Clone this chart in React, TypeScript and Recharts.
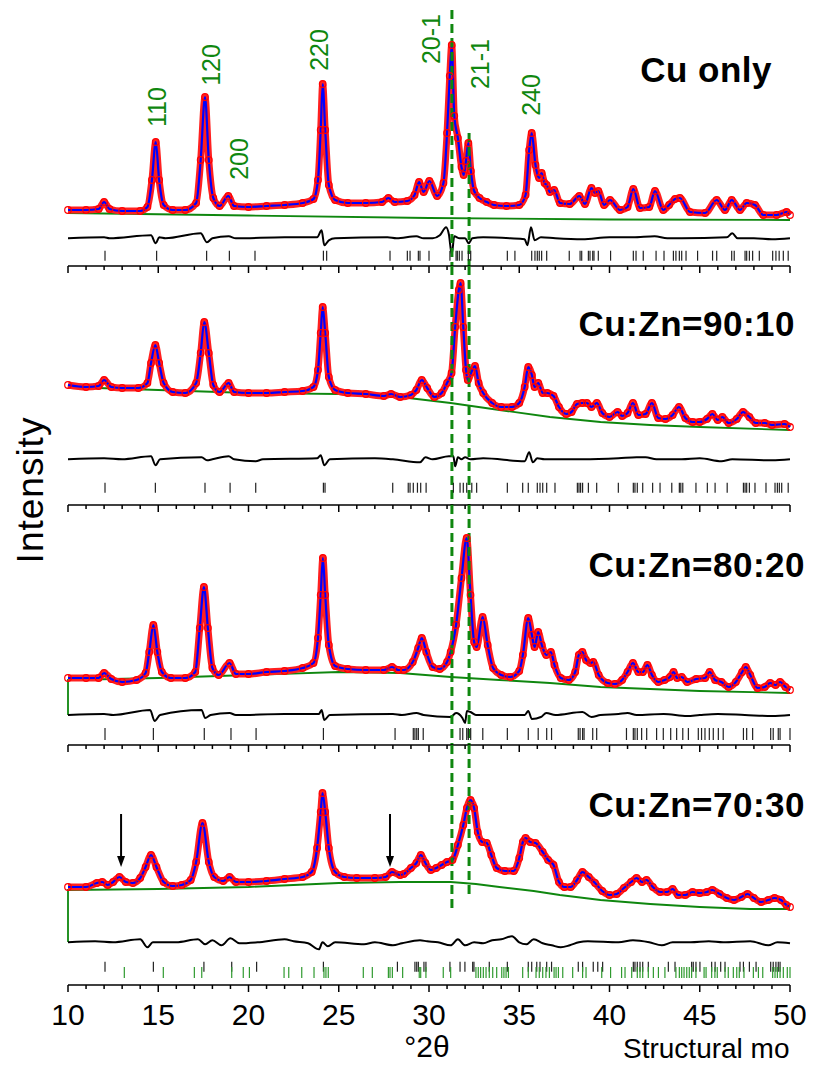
import React from 'react'
import { ComposedChart, Line, Scatter, XAxis, YAxis, ReferenceLine } from 'recharts'

type Pt = [number, number]

// observed / calculated profiles, [2θ, intensity a.u.]
const cuOnlyProfile: Pt[] = [
  [10, 56], [11, 56], [11.7, 57], [12, 64], [12.3, 57], [13, 55], [14, 55], [14.4, 59], [14.65, 86], [14.86, 124],
  [15.05, 86], [15.3, 61], [15.8, 56], [16.5, 56], [17.1, 63], [17.35, 106], [17.59, 169], [17.8, 106], [18.05, 68],
  [18.4, 60], [18.88, 70], [19.2, 60], [20, 59], [21, 60], [22, 61], [23, 63], [23.6, 67], [23.85, 86], [24, 136],
  [24.11, 182], [24.25, 136], [24.45, 81], [24.8, 66], [25.5, 63], [26.5, 63], [27.4, 64], [27.75, 68], [28.1, 64],
  [28.8, 65], [29.2, 71], [29.45, 84], [29.7, 74], [30.02, 85], [30.45, 70], [30.8, 83], [31, 133], [31.15, 190],
  [31.26, 221], [31.4, 150], [31.6, 128], [31.8, 99], [31.92, 91], [32.05, 105], [32.18, 123], [32.32, 95], [32.5, 75],
  [32.8, 68], [33.2, 64], [33.6, 61], [34.3, 60], [35, 61], [35.35, 71], [35.55, 116], [35.69, 133], [35.9, 101],
  [36.1, 88], [36.24, 93], [36.4, 83], [36.52, 81], [36.7, 74], [36.93, 76], [37.26, 63], [37.8, 62], [38.33, 70],
  [38.64, 62], [39, 78], [39.2, 73], [39.38, 75], [39.7, 61], [40.03, 66], [40.58, 56], [41, 59], [41.32, 77],
  [41.69, 58], [42.2, 59], [42.52, 75], [42.98, 56], [43.3, 61], [43.63, 67], [43.9, 68], [44.46, 54], [45.3, 53],
  [45.94, 66], [46.4, 56], [46.77, 66], [47.23, 56], [47.6, 63], [48.06, 61], [48.52, 51], [49.26, 51], [49.81, 54], [50, 51],
]
const zn10Profile: Pt[] = [
  [10, 120], [11, 118], [11.7, 119], [12, 125], [12.4, 118], [13, 117], [13.9, 117], [14.4, 122], [14.6, 142], [14.84, 160],
  [15.05, 142], [15.3, 122], [15.8, 113], [16.5, 112], [17.1, 122], [17.35, 152], [17.55, 183], [17.8, 152], [18.05, 120],
  [18.4, 113], [18.9, 122], [19.2, 113], [20, 112], [21, 112], [22, 113], [23, 114], [23.6, 118], [23.85, 135], [24, 172],
  [24.11, 198], [24.25, 172], [24.45, 128], [24.8, 115], [25.5, 112], [26.5, 111], [27.5, 109], [27.9, 111], [28.4, 108],
  [29, 110], [29.3, 115], [29.6, 125], [29.9, 117], [30.3, 108], [30.7, 112], [31, 122], [31.25, 132], [31.45, 178],
  [31.65, 215], [31.75, 222], [31.9, 178], [32.05, 135], [32.15, 125], [32.35, 133], [32.55, 139], [32.75, 122], [33, 112],
  [33.5, 102], [34, 98], [34.6, 98], [35, 102], [35.3, 118], [35.5, 138], [35.7, 130], [35.85, 118], [36.05, 122],
  [36.3, 112], [36.55, 112], [36.9, 109], [37.2, 98], [37.6, 91], [37.9, 93], [38.2, 101], [38.5, 102], [38.75, 102],
  [39, 98], [39.3, 102], [39.6, 92], [40, 88], [40.45, 93], [40.7, 89], [41, 92], [41.3, 102], [41.6, 90], [42, 91],
  [42.35, 102], [42.7, 87], [43.1, 86], [43.5, 90], [43.85, 98], [44.2, 87], [44.6, 83], [45, 83], [45.4, 86], [45.7, 91],
  [46, 85], [46.25, 88], [46.6, 82], [47.05, 86], [47.4, 93], [47.75, 88], [48.1, 82], [48.6, 82], [49, 80], [49.7, 81], [50, 78],
]
const zn20Profile: Pt[] = [
  [10, 67], [11, 67], [11.7, 67], [12, 72], [12.4, 66], [13, 63], [13.8, 65], [14.3, 72], [14.5, 93], [14.73, 120],
  [14.95, 93], [15.2, 73], [15.7, 67], [16.5, 67], [17.05, 73], [17.3, 117], [17.53, 158], [17.75, 117], [18, 77],
  [18.35, 70], [18.95, 82], [19.3, 71], [20, 71], [21, 73], [22, 74], [23, 77], [23.6, 82], [23.85, 107], [24, 150],
  [24.12, 187], [24.25, 150], [24.45, 100], [24.8, 79], [25.5, 76], [26.5, 75], [27.5, 75], [27.95, 78], [28.3, 75],
  [28.6, 75], [29.1, 83], [29.4, 97], [29.6, 107], [29.85, 93], [30.2, 78], [30.6, 76], [31, 83], [31.2, 93], [31.5, 120],
  [31.8, 167], [32.09, 207], [32.3, 150], [32.5, 103], [32.64, 98], [32.97, 128], [33.25, 100], [33.55, 77], [34, 70],
  [34.5, 68], [35, 74], [35.2, 90], [35.5, 127], [35.7, 110], [35.85, 98], [36.05, 113], [36.25, 100], [36.5, 90],
  [36.75, 93], [36.95, 80], [37.3, 67], [37.75, 65], [38.1, 73], [38.3, 90], [38.5, 93], [38.7, 85], [38.95, 82],
  [39.1, 83], [39.4, 70], [39.9, 62], [40.3, 61], [40.7, 65], [41, 73], [41.3, 82], [41.6, 73], [41.85, 73], [42.1, 80],
  [42.35, 70], [42.7, 63], [43.05, 65], [43.35, 68], [43.55, 73], [43.75, 67], [44, 68], [44.3, 63], [44.8, 66],
  [45.3, 67], [45.55, 73], [45.85, 65], [46.2, 63], [46.6, 58], [47, 63], [47.35, 73], [47.55, 78], [47.8, 70],
  [48.2, 57], [48.6, 58], [48.9, 62], [49.2, 60], [49.45, 63], [49.75, 58], [50, 55],
]
const zn30Profile: Pt[] = [
  [10, 98], [11, 98], [11.6, 102], [11.9, 103], [12.2, 100], [12.5, 103], [12.85, 108], [13.2, 103], [13.6, 102], [14, 107],
  [14.3, 118], [14.6, 130], [14.9, 118], [15.3, 103], [15.8, 99], [16.3, 100], [16.8, 105], [17.1, 123], [17.45, 162],
  [17.8, 123], [18.1, 108], [18.6, 104], [18.95, 108], [19.3, 103], [20, 103], [21, 104], [22, 106], [23, 108],
  [23.5, 113], [23.8, 137], [24, 173], [24.1, 192], [24.25, 173], [24.45, 137], [24.8, 113], [25.3, 108], [26, 107],
  [27, 107], [27.6, 108], [27.95, 113], [28.4, 110], [28.6, 111], [29, 117], [29.3, 122], [29.55, 130], [29.8, 122],
  [30.1, 115], [30.4, 117], [30.7, 120], [31, 123], [31.3, 125], [31.6, 140], [31.9, 160], [32.1, 177], [32.3, 185],
  [32.5, 177], [32.7, 153], [32.95, 143], [33.2, 142], [33.45, 130], [33.75, 117], [34.2, 114], [34.7, 114], [35, 127],
  [35.2, 143], [35.35, 147], [35.6, 143], [35.9, 142], [36.3, 133], [36.6, 125], [36.9, 120], [37.2, 103], [37.5, 98],
  [37.85, 98], [38.2, 105], [38.5, 113], [38.85, 108], [39.2, 102], [39.6, 94], [40, 90], [40.4, 91], [40.8, 97],
  [41.2, 103], [41.5, 107], [41.8, 103], [42.05, 105], [42.4, 98], [42.8, 93], [43.2, 93], [43.5, 96], [43.8, 90],
  [44.2, 90], [44.6, 93], [45, 92], [45.4, 93], [45.7, 95], [46.1, 91], [46.5, 87], [46.9, 85], [47.3, 88], [47.65, 91],
  [48, 87], [48.4, 83], [48.8, 85], [49.15, 87], [49.5, 85], [49.8, 80], [50, 78],
]

// refined backgrounds
const cuOnlyBackground: Pt[] = [[10, 53], [20, 50.5], [30, 48], [40, 46.5], [50, 46]]
const zn10Background: Pt[] = [
  [10, 118], [15, 115], [20, 112], [25, 111], [28.4, 108], [31.2, 102], [33.9, 95], [36.7, 88], [39.5, 83], [42.25, 80], [45, 78], [50, 75],
]
const zn20Background: Pt[] = [
  [10, 30], [10, 65], [15, 67], [20, 70], [25, 73], [28.4, 72], [31.2, 68], [33.9, 65], [36.7, 62], [39.5, 58], [42.25, 56], [45, 54], [50, 52],
]
const zn30Background: Pt[] = [
  [10, 43], [10, 95], [15, 96], [20, 98], [25, 102], [28.4, 103], [31.2, 103], [32.6, 101], [33.9, 98], [35.8, 94],
  [37.25, 90], [39.5, 85], [42.25, 81], [45, 78], [47.8, 76], [50, 76],
]

// obs - calc
const cuOnlyDiff: Pt[] = [
  [10, 0], [12, 1], [12.3, 0], [14.6, 3], [14.86, -5], [15.05, 1], [15.4, 0], [17.35, 5], [17.7, -4], [18, 0], [18.9, 2],
  [19.3, 0], [22, 1], [23.8, 1], [24.05, 8], [24.2, -7], [24.45, -2], [24.8, 0], [27.7, 1], [28.2, 0], [29.3, 2], [29.7, 0],
  [30.2, 0], [30.6, 3], [30.95, 11], [31.1, 4], [31.26, -16], [31.4, 2], [31.7, 0], [32, 0], [32.2, -5], [32.4, 0], [33, 1],
  [34.5, 0], [35.3, -1], [35.45, -7], [35.65, 11], [35.85, -2], [36.2, 1], [37, 0], [38.5, -1], [40, 1], [41.3, 1],
  [42.5, 2], [43.2, 0], [44, 0], [46.5, 1], [46.8, 5], [47.1, 0], [48, 0], [49, -1], [50, 0],
]
const zn10Diff: Pt[] = [
  [10, 0], [12, 1], [13, 0], [14.6, 3], [14.85, -6], [15.1, 0], [17.4, 2], [17.7, -1], [18, 0], [18.9, 3], [19.2, 0],
  [20.4, -2], [20.8, 0], [23.8, 1], [24, 4], [24.2, -6], [24.5, 0], [27, 1], [28, 0], [29.5, -3], [29.8, 2], [30.2, 0],
  [31.1, 3], [31.35, 3], [31.45, -7], [31.6, 2], [31.8, 0], [32, 2], [32.3, 0], [33, 1], [35.3, -2], [35.55, 7],
  [35.75, -3], [36, 1], [36.4, 0], [38.5, 0], [40.5, 1], [41.5, 2], [42, 2], [42.6, 0], [44, 0], [45, 1], [46.2, -2],
  [46.8, 0], [49, -1], [50, 0],
]
const zn20Diff: Pt[] = [
  [10, 0], [12, 1], [12.5, 0], [14.55, 5], [14.8, -6], [15.1, 0], [17.4, 5], [17.6, -3], [17.9, 0], [18.95, 2], [19.3, 0],
  [22, 1], [23.9, 1], [24.05, 5], [24.2, -5], [24.5, 0], [28, 1], [28.5, 0], [29.3, 2], [29.7, 0], [31.2, -2], [31.5, 2],
  [31.85, -3], [32, -8], [32.1, 4], [32.3, 3], [32.6, 0], [34, 0], [35.3, 0], [35.5, 4], [35.7, -4], [36.2, -2],
  [36.5, 2], [37, 0], [38.5, 3], [39, -2], [39.5, 0], [40.5, 1], [41, 2], [41.5, 0], [43, 1], [44.3, -1], [45, 0],
  [46, 1], [47.5, 0], [49, -1], [50, 0],
]
const zn30Diff: Pt[] = [
  [10, 0], [11.5, 1], [12.5, 0], [14, 3], [14.4, -5], [14.7, 0], [16, 0], [17.2, 3], [17.6, -2], [18, 2], [18.5, -3],
  [19, 4], [19.5, -1], [20.5, 0], [22, 3], [22.5, 1], [23.3, -1], [23.9, -7], [24.1, 0], [24.4, -4], [24.8, 0],
  [26.4, -2], [27, 0], [28, -3], [28.5, -1], [29.5, 2], [29.9, 1], [30.5, 0], [31.2, -3], [31.6, 3], [32, -3], [32.5, 0],
  [33, -1], [33.5, 2], [34, 3], [34.6, 6], [35, 0], [35.4, -2], [35.8, 3], [36.3, -1], [36.8, -3], [37.3, -5],
  [37.8, -3], [38.3, 0], [38.8, 1], [40.5, 0], [41.3, 2], [42.2, 0], [42.9, -3], [43.5, 0], [44.5, 0], [45.5, 1],
  [46.3, 0], [47.8, 1], [48.8, -3], [49.3, 0], [50, -1],
]

// Bragg reflection positions (2θ)
const cuOnlyReflections = [
  12.05, 14.91, 17.68, 18.94, 20.36, 24.15, 24.33, 27.84, 28.8, 28.95, 29.41, 29.5, 30.0, 31.16, 31.5, 31.57, 31.68,
  31.83, 32.18, 32.31, 34.34, 34.76, 35.69, 35.87, 36.0, 36.11, 36.24, 36.52, 37.77, 38.37, 38.46, 38.83, 38.92, 39.07,
  39.14, 39.38, 40.06, 41.32, 41.47, 41.87, 42.58, 43.02, 43.54, 43.68, 43.87, 44.0, 44.24, 44.88, 45.71, 45.94, 46.77,
  46.91, 47.51, 47.6, 47.75, 47.93, 48.3, 49.04, 49.22, 49.4, 49.63, 49.9,
]
const zn10Reflections = [
  12.05, 14.84, 17.59, 18.98, 20.4, 24.15, 24.24, 27.99, 28.85, 28.95, 29.13, 29.36, 29.54, 29.84, 31.35, 31.72, 31.9,
  32.09, 32.37, 32.64, 34.34, 35.19, 35.5, 36.0, 36.15, 36.3, 36.52, 36.98, 38.22, 38.31, 38.4, 38.51, 38.83, 39.29,
  40.49, 41.32, 41.41, 41.54, 41.84, 42.39, 42.8, 43.45, 43.87, 43.95, 44.06, 44.79, 45.42, 45.85, 46.52, 47.42, 47.51,
  47.6, 47.75, 48.06, 48.67, 49.17, 49.3, 49.41, 49.54, 49.9,
]
const zn20Reflections = [
  12.05, 14.73, 17.55, 19.03, 20.42, 24.15, 28.12, 29.13, 29.22, 29.32, 29.41, 29.68, 31.72, 31.87, 32.09, 32.18, 32.31,
  32.98, 34.34, 35.5, 36.05, 36.52, 36.79, 38.27, 38.37, 38.51, 38.59, 39.07, 39.29, 40.94, 41.32, 41.41, 41.54, 41.78,
  42.06, 42.61, 42.98, 43.39, 43.72, 44.06, 44.37, 44.92, 45.1, 45.29, 45.53, 45.75, 46.03, 46.3, 47.42, 47.6, 47.93,
  48.93, 49.07, 49.35, 49.45, 50.0,
]
const zn30Reflections = [
  12.05, 14.73, 17.53, 19.07, 20.45, 24.15, 28.25, 29.22, 29.32, 29.41, 29.72, 29.83, 31.16, 31.72, 31.99, 32.42, 32.49,
  33.34, 34.34, 35.5, 35.69, 35.97, 36.15, 36.52, 36.79, 38.27, 38.51, 39.1, 39.35, 39.62, 41.32, 41.41, 41.54, 41.69,
  41.84, 42.15, 43.26, 43.63, 44.55, 44.64, 44.79, 45.01, 45.66, 45.85, 46.16, 46.4, 47.23, 47.42, 47.75, 48.12, 48.93,
  49.07, 49.22, 49.35, 49.45,
]
// second phase in the 70:30 sample
const zn30SecondPhase = [
  13.12, 15.28, 17.0, 17.41, 19.07, 19.71, 20.05, 21.97, 22.23, 22.95, 23.63, 24.18, 24.29, 24.42, 26.36, 26.86, 27.75,
  27.84, 27.97, 28.54, 29.46, 29.54, 29.83, 30.79, 31.2, 32.6, 32.73, 32.86, 33.01, 33.16, 33.34, 33.53, 33.75, 34.03,
  34.15, 34.27, 34.4, 35.19, 35.5, 35.93, 36.11, 36.3, 36.48, 36.67, 36.93, 37.04, 37.17, 37.41, 37.96, 38.51, 38.7,
  39.57, 40.06, 40.67, 40.86, 41.23, 41.54, 41.69, 41.84, 42.15, 42.43, 42.71, 43.07, 43.68, 43.87, 44.0, 44.13, 44.28,
  44.42, 44.55, 44.79, 45.24, 45.35, 45.66, 45.84, 45.97, 46.4, 46.58, 46.86, 47.05, 47.19, 47.45, 47.97, 48.25, 48.49,
  49.04, 49.17, 49.3, 49.45, 49.63, 49.85, 50.0,
]

const panelTitles = ['Cu only', 'Cu:Zn=90:10', 'Cu:Zn=80:20', 'Cu:Zn=70:30']
const hklLabels = ['110', '120', '200', '220', '20-1', '21-1', '240']
const hklAt = [14.93, 17.92, 19.47, 23.9, 30.11, 32.83, 35.65]
const hklHeight = [159, 201, 107, 216, 227, 202, 171]
const markerLines = [31.27, 32.22]
const arrowAt = [12.94, 27.84]
const xTicks = Array.from({ length: 41 }, (_, i) => 10 + i)
const yTicks = [8, 29, 50, 71, 92, 113, 133, 154, 175, 196, 217]

const FONT = '"Liberation Sans", Arial, sans-serif'
const GREEN = '#0f870f'
const W = 798

const toPts = (a: Pt[]) => a.map(([x, y]) => ({ x, y }))

const AxisTick = (props: any) => {
  const { x, y, payload, showLabel } = props
  const major = payload.value % 5 === 0
  return (
    <g>
      <line x1={x} x2={x} y1={y} y2={y + (major ? 7 : 4)} stroke="#000" strokeWidth={1.5} />
      {showLabel && major && (
        <text x={x} y={y + 40} textAnchor="middle" fontSize={30} fontFamily={FONT} fill="#000">
          {payload.value}
        </text>
      )}
    </g>
  )
}

const tickShape = (len: number, color: string) => (props: any) => {
  const { cx, cy } = props
  return <line x1={cx} x2={cx} y1={cy - len / 2} y2={cy + len / 2} stroke={color} strokeWidth={1.2} />
}

const HklText = (props: any) => {
  const { cx, cy, payload } = props
  return (
    <text x={cx} y={cy} transform={`rotate(-90 ${cx} ${cy})`} textAnchor="middle" dominantBaseline="central"
      fontSize={25} fontFamily={FONT} fill={GREEN}>
      {payload.label}
    </text>
  )
}

const Arrow = (props: any) => {
  const { x1, y1, x2, y2 } = props
  return (
    <g>
      <line x1={x1} y1={y1} x2={x2} y2={y2 - 8} stroke="#000" strokeWidth={2} />
      <path d={`M${x2 - 4},${y2 - 11} L${x2 + 4},${y2 - 11} L${x2},${y2} Z`} fill="#000" />
    </g>
  )
}

interface PanelProps {
  top: number
  height: number
  marginTop: number
  axisHeight: number
  profile: Pt[]
  background: Pt[]
  diff: Pt[]
  diffBase: number
  reflections: number[]
  tickBase: number
  tickLen: number
  extra?: number[]
  extraBase?: number
  showLabels?: boolean
  dashes: [number, number][]
  children?: React.ReactNode
}

function Panel(p: PanelProps) {
  const prof = toPts(p.profile)
  const diffPts = p.diff.map(([x, d]) => ({ x, y: p.diffBase + d }))
  return (
    <div style={{ position: 'absolute', left: 0, top: p.top }}>
      <ComposedChart width={W} height={p.marginTop + p.height + p.axisHeight}
        margin={{ top: p.marginTop, right: 16, bottom: 0, left: 60 }}>
        <XAxis type="number" dataKey="x" domain={[10, 50]} ticks={xTicks} interval={0} tickSize={0} tickMargin={0}
          height={p.axisHeight} axisLine={{ stroke: '#000', strokeWidth: 1.5 }} tickLine={false}
          tick={(t: any) => <AxisTick {...t} showLabel={p.showLabels} />} />
        <YAxis type="number" dataKey="y" domain={[0, p.height]} width={0} mirror tick={false} tickSize={3}
          ticks={yTicks.filter(v => v <= p.height)} axisLine={{ stroke: '#000', strokeWidth: 1.5 }}
          tickLine={{ stroke: '#000', strokeWidth: 1 }} />
        <Line data={toPts(p.background)} dataKey="y" type="linear" stroke={GREEN} strokeWidth={1.8} dot={false}
          activeDot={false} isAnimationActive={false} />
        <Line data={prof} dataKey="y" type="monotone" stroke="#ff2020" strokeWidth={7}
          dot={{ r: 3.3, stroke: '#ff0000', strokeWidth: 1.2, fill: 'none' }} activeDot={false} isAnimationActive={false} />
        <Line data={prof} dataKey="y" type="monotone" stroke="#0000ff" strokeWidth={2.2} dot={false}
          activeDot={false} isAnimationActive={false} />
        <Line data={diffPts} dataKey="y" type="monotone" stroke="#000" strokeWidth={2} dot={false}
          activeDot={false} isAnimationActive={false} />
        <Scatter data={p.reflections.map(x => ({ x, y: p.tickBase }))} shape={tickShape(p.tickLen, '#222')}
          isAnimationActive={false} />
        {p.extra && (
          <Scatter data={p.extra.map(x => ({ x, y: p.extraBase }))} shape={tickShape(11, '#2f9a2f')}
            isAnimationActive={false} />
        )}
        {markerLines.map((x, i) => (
          <ReferenceLine key={x} segment={[{ x, y: p.dashes[i][0] }, { x, y: p.dashes[i][1] }]}
            stroke={GREEN} strokeWidth={3} strokeDasharray="9 5" ifOverflow="visible" />
        ))}
        {p.children}
      </ComposedChart>
    </div>
  )
}

export default function App() {
  const hkl = hklLabels.map((label, i) => ({ x: hklAt[i], y: hklHeight[i], label }))
  const titleY = [74, 328, 569, 809]
  const titleRight = [764, 787, 797, 797]
  return (
    <div style={{ position: 'relative', width: W, height: 1058, fontFamily: FONT }}>
      <Panel top={0} height={238} marginTop={20} axisHeight={10} profile={cuOnlyProfile}
        background={cuOnlyBackground} diff={cuOnlyDiff} diffBase={27.7} reflections={cuOnlyReflections}
        tickBase={10.3} tickLen={10} dashes={[[256, 0], [133, 0]]}>
        <Scatter data={hkl} shape={HklText} isAnimationActive={false} />
      </Panel>
      <Panel top={258} height={239} marginTop={0} axisHeight={10} profile={zn10Profile}
        background={zn10Background} diff={zn10Diff} diffBase={45.7} reflections={zn10Reflections}
        tickBase={17.3} tickLen={10} dashes={[[239, 0], [239, 0]]} />
      <Panel top={497} height={240} marginTop={0} axisHeight={10} profile={zn20Profile}
        background={zn20Background} diff={zn20Diff} diffBase={30} reflections={zn20Reflections}
        tickBase={11} tickLen={12} dashes={[[240, 0], [240, 0]]} />
      <Panel top={737} height={240} marginTop={0} axisHeight={50} profile={zn30Profile}
        background={zn30Background} diff={zn30Diff} diffBase={42.7} reflections={zn30Reflections}
        tickBase={18.3} tickLen={10} extra={zn30SecondPhase} extraBase={12.5} showLabels
        dashes={[[240, 73], [240, 88]]}>
        {arrowAt.map(x => (
          <ReferenceLine key={x} segment={[{ x, y: 171 }, { x, y: 118 }]} shape={Arrow} />
        ))}
      </Panel>
      <svg width={W} height={1058} style={{ position: 'absolute', left: 0, top: 0, pointerEvents: 'none' }}>
        <text x={35} y={482} transform="rotate(-90 35 482)" textAnchor="middle" fontSize={37} letterSpacing={1}
          fontFamily={FONT} fill="#000">Intensity</text>
        {panelTitles.map((t, i) => (
          <text key={t} x={titleRight[i]} y={titleY[i]} textAnchor="end" fontSize={35} fontWeight="bold"
            letterSpacing={0.5} fontFamily={FONT} fill="#000">{t}</text>
        ))}
        <text x={419} y={1049} textAnchor="middle" fontSize={30} fontFamily={FONT} fill="#000">°2θ</text>
        <text x={615} y={1050} fontSize={28} fontFamily={FONT} fill="#000">Structural mo</text>
      </svg>
    </div>
  )
}
